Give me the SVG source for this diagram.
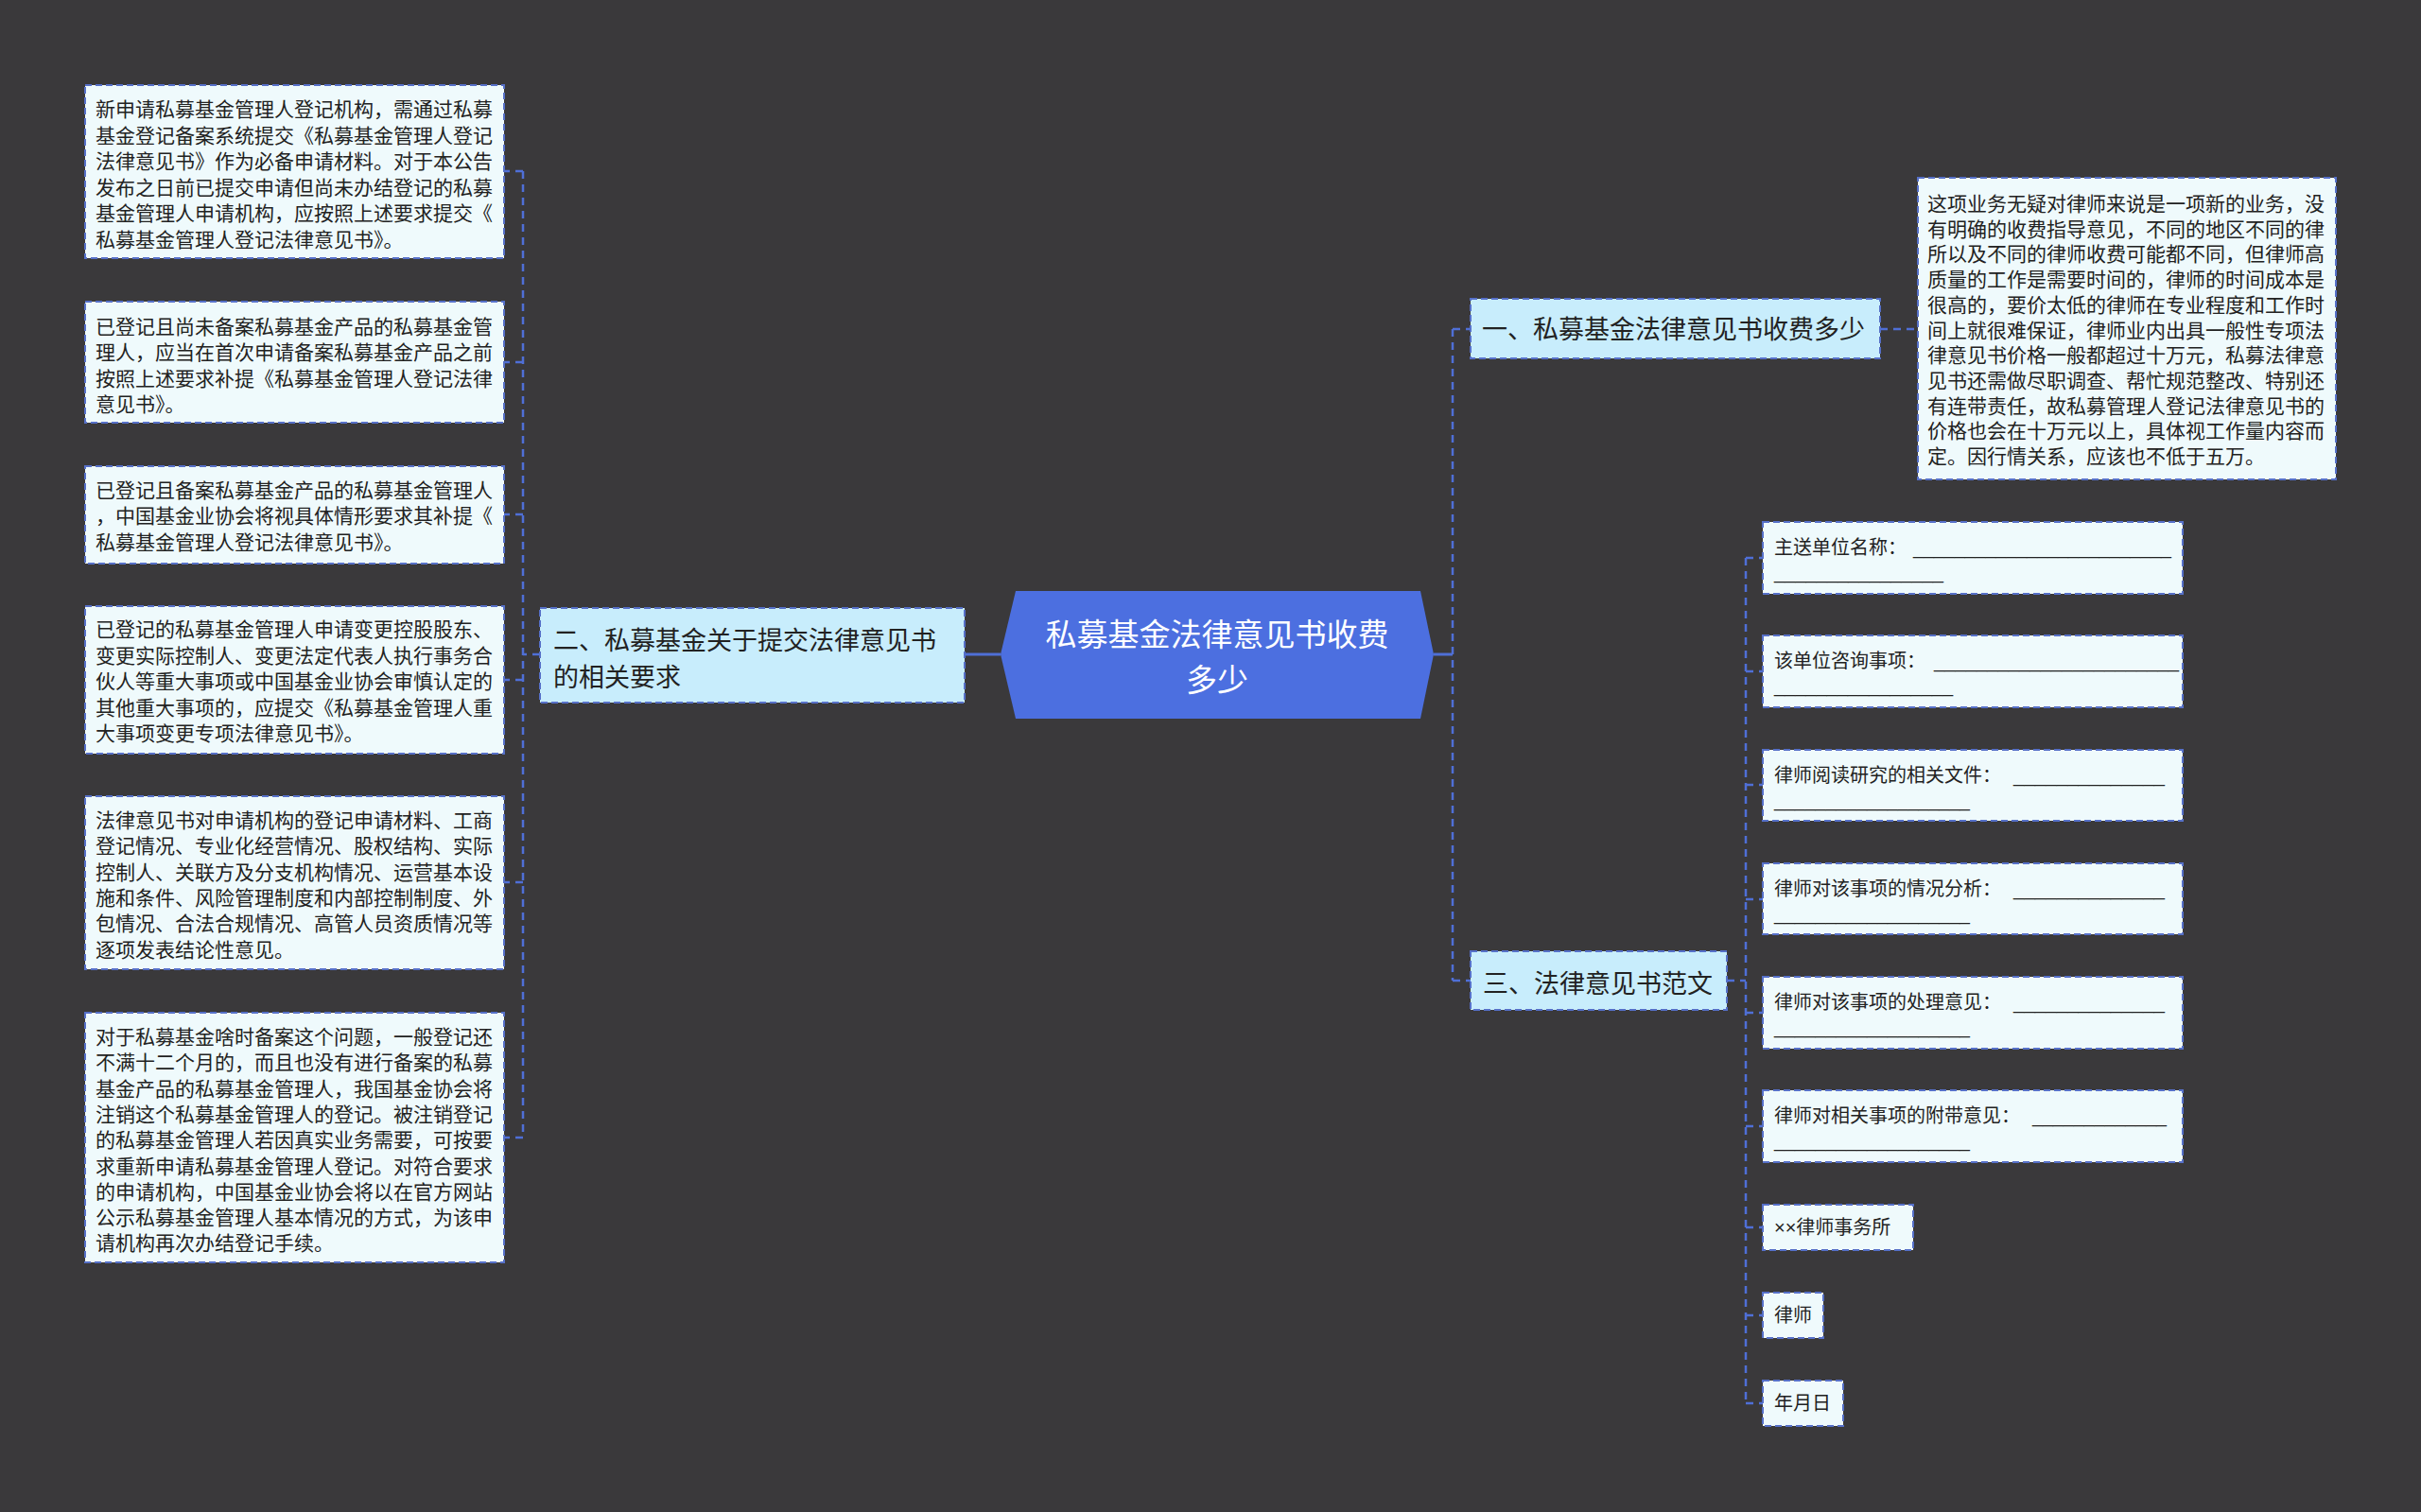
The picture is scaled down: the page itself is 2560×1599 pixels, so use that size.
<svg xmlns="http://www.w3.org/2000/svg" width="2560" height="1599" viewBox="0 0 2560 1599">
<style>
.leaf{fill:#effafc;stroke:#5670c8;stroke-width:2;stroke-dasharray:7 4}
.branch{fill:#c8edfc;stroke:#5670c8;stroke-width:2;stroke-dasharray:7 4}
.t{font-family:"Noto Sans CJK SC","Noto Sans",sans-serif;fill:#222;font-size:21px}
.ts{font-family:"Noto Sans CJK SC","Noto Sans",sans-serif;fill:#222;font-size:20px}
.tb{font-family:"Noto Sans CJK SC","Noto Sans",sans-serif;fill:#222;font-size:27px}
.u{font-family:"Liberation Sans",sans-serif;fill:#222;font-size:20px}
.conn{fill:none;stroke:#4f6fd6;stroke-width:2.5;stroke-dasharray:8 6}
.solid{fill:none;stroke:#4f6fd6;stroke-width:3}
</style>
<rect width="2560" height="1599" fill="#3a393b"/>
<g id="connectors">
<path class="solid" d="M1020 692H1058"/>
<path class="solid" d="M1516 692H1536"/>
<path class="conn" d="M571 692H553M553 181V1203M553 181H533M553 383H533M553 544H533M553 719H533M553 933H533M553 1203H533"/>
<path class="conn" d="M1536 348V1037M1536 348H1555M1536 1037H1555"/>
<path class="conn" d="M1988 348H2028"/>
<path class="conn" d="M1826 1037H1846M1846 590V1484M1846 590H1864M1846 710H1864M1846 830H1864M1846 951H1864M1846 1071H1864M1846 1191H1864M1846 1298H1864M1846 1391H1864M1846 1484H1864"/>
</g>
<g id="center">
<polygon points="1074,625 1502,625 1516,692 1502,760 1074,760 1058,692" fill="#4c6fe0"/>
<text text-anchor="middle" font-family="Noto Sans CJK SC, sans-serif" font-size="33" fill="#fff"><tspan x="1287" y="683">私募基金法律意见书收费</tspan><tspan x="1287" y="731">多少</tspan></text>
</g>
<g id="b2">
<rect class="branch" x="571" y="643" width="449" height="100"/>
<text class="tb"><tspan x="585" y="687">二、私募基金关于提交法律意见书</tspan><tspan x="585" y="726">的相关要求</tspan></text>
</g>
<g id="l1">
<rect class="leaf" x="90" y="90" width="443" height="183"/>
<text class="t" x="101" y="123"><tspan x="101">新申请私募基金管理人登记机构，需通过私募</tspan><tspan x="101" dy="27.5">基金登记备案系统提交《私募基金管理人登记</tspan><tspan x="101" dy="27.5">法律意见书》作为必备申请材料。对于本公告</tspan><tspan x="101" dy="27.5">发布之日前已提交申请但尚未办结登记的私募</tspan><tspan x="101" dy="27.5">基金管理人申请机构，应按照上述要求提交《</tspan><tspan x="101" dy="27.5">私募基金管理人登记法律意见书》。</tspan></text>
</g>
<g id="l2">
<rect class="leaf" x="90" y="319" width="443" height="128"/>
<text class="t" x="101" y="353"><tspan x="101">已登记且尚未备案私募基金产品的私募基金管</tspan><tspan x="101" dy="27.3">理人，应当在首次申请备案私募基金产品之前</tspan><tspan x="101" dy="27.3">按照上述要求补提《私募基金管理人登记法律</tspan><tspan x="101" dy="27.3">意见书》。</tspan></text>
</g>
<g id="l3">
<rect class="leaf" x="90" y="493" width="443" height="103"/>
<text class="t" x="101" y="526"><tspan x="101">已登记且备案私募基金产品的私募基金管理人</tspan><tspan x="101" dy="27.3">，中国基金业协会将视具体情形要求其补提《</tspan><tspan x="101" dy="27.3">私募基金管理人登记法律意见书》。</tspan></text>
</g>
<g id="l4">
<rect class="leaf" x="90" y="641" width="443" height="156"/>
<text class="t" x="101" y="673"><tspan x="101">已登记的私募基金管理人申请变更控股股东、</tspan><tspan x="101" dy="27.5">变更实际控制人、变更法定代表人执行事务合</tspan><tspan x="101" dy="27.5">伙人等重大事项或中国基金业协会审慎认定的</tspan><tspan x="101" dy="27.5">其他重大事项的，应提交《私募基金管理人重</tspan><tspan x="101" dy="27.5">大事项变更专项法律意见书》。</tspan></text>
</g>
<g id="l5">
<rect class="leaf" x="90" y="842" width="443" height="183"/>
<text class="t" x="101" y="875"><tspan x="101">法律意见书对申请机构的登记申请材料、工商</tspan><tspan x="101" dy="27.3">登记情况、专业化经营情况、股权结构、实际</tspan><tspan x="101" dy="27.3">控制人、关联方及分支机构情况、运营基本设</tspan><tspan x="101" dy="27.3">施和条件、风险管理制度和内部控制制度、外</tspan><tspan x="101" dy="27.3">包情况、合法合规情况、高管人员资质情况等</tspan><tspan x="101" dy="27.3">逐项发表结论性意见。</tspan></text>
</g>
<g id="l6">
<rect class="leaf" x="90" y="1071" width="443" height="264"/>
<text class="t" x="101" y="1104"><tspan x="101">对于私募基金啥时备案这个问题，一般登记还</tspan><tspan x="101" dy="27.3">不满十二个月的，而且也没有进行备案的私募</tspan><tspan x="101" dy="27.3">基金产品的私募基金管理人，我国基金协会将</tspan><tspan x="101" dy="27.3">注销这个私募基金管理人的登记。被注销登记</tspan><tspan x="101" dy="27.3">的私募基金管理人若因真实业务需要，可按要</tspan><tspan x="101" dy="27.3">求重新申请私募基金管理人登记。对符合要求</tspan><tspan x="101" dy="27.3">的申请机构，中国基金业协会将以在官方网站</tspan><tspan x="101" dy="27.3">公示私募基金管理人基本情况的方式，为该申</tspan><tspan x="101" dy="27.3">请机构再次办结登记手续。</tspan></text>
</g>
<g id="b1">
<rect class="branch" x="1555" y="316" width="433" height="63"/>
<text class="tb" x="1567" y="358">一、私募基金法律意见书收费多少</text>
</g>
<g id="r1">
<rect class="leaf" x="2028" y="188" width="442" height="319"/>
<text class="t" x="2038" y="223"><tspan x="2038">这项业务无疑对律师来说是一项新的业务，没</tspan><tspan x="2038" dy="26.7">有明确的收费指导意见，不同的地区不同的律</tspan><tspan x="2038" dy="26.7">所以及不同的律师收费可能都不同，但律师高</tspan><tspan x="2038" dy="26.7">质量的工作是需要时间的，律师的时间成本是</tspan><tspan x="2038" dy="26.7">很高的，要价太低的律师在专业程度和工作时</tspan><tspan x="2038" dy="26.7">间上就很难保证，律师业内出具一般性专项法</tspan><tspan x="2038" dy="26.7">律意见书价格一般都超过十万元，私募法律意</tspan><tspan x="2038" dy="26.7">见书还需做尽职调查、帮忙规范整改、特别还</tspan><tspan x="2038" dy="26.7">有连带责任，故私募管理人登记法律意见书的</tspan><tspan x="2038" dy="26.7">价格也会在十万元以上，具体视工作量内容而</tspan><tspan x="2038" dy="26.7">定。因行情关系，应该也不低于五万。</tspan></text>
</g>
<g id="b3">
<rect class="branch" x="1555" y="1006" width="271" height="62"/>
<text class="tb" x="1568" y="1050">三、法律意见书范文</text>
</g>
<g id="c1">
<rect class="leaf" x="1864" y="552" width="444" height="76"/>
<text class="ts" x="1876" y="586">主送单位名称：</text>
<text class="u" x="2023" y="586" textLength="273" lengthAdjust="spacingAndGlyphs">_________________________</text>
<text class="u" x="1876" y="612" textLength="179" lengthAdjust="spacingAndGlyphs">________________</text>
</g>
<g id="c2">
<rect class="leaf" x="1864" y="672" width="444" height="76"/>
<text class="ts" x="1876" y="706">该单位咨询事项：</text>
<text class="u" x="2045" y="706" textLength="259" lengthAdjust="spacingAndGlyphs">_______________________</text>
<text class="u" x="1876" y="732" textLength="189" lengthAdjust="spacingAndGlyphs">_________________</text>
</g>
<g id="c3">
<rect class="leaf" x="1864" y="793" width="444" height="75"/>
<text class="ts" x="1876" y="827">律师阅读研究的相关文件：</text>
<text class="u" x="2129" y="827" textLength="160" lengthAdjust="spacingAndGlyphs">______________</text>
<text class="u" x="1876" y="853" textLength="207" lengthAdjust="spacingAndGlyphs">___________________</text>
</g>
<g id="c4">
<rect class="leaf" x="1864" y="913" width="444" height="75"/>
<text class="ts" x="1876" y="947">律师对该事项的情况分析：</text>
<text class="u" x="2129" y="947" textLength="160" lengthAdjust="spacingAndGlyphs">______________</text>
<text class="u" x="1876" y="973" textLength="207" lengthAdjust="spacingAndGlyphs">___________________</text>
</g>
<g id="c5">
<rect class="leaf" x="1864" y="1033" width="444" height="76"/>
<text class="ts" x="1876" y="1067">律师对该事项的处理意见：</text>
<text class="u" x="2129" y="1067" textLength="160" lengthAdjust="spacingAndGlyphs">______________</text>
<text class="u" x="1876" y="1093" textLength="207" lengthAdjust="spacingAndGlyphs">___________________</text>
</g>
<g id="c6">
<rect class="leaf" x="1864" y="1153" width="444" height="76"/>
<text class="ts" x="1876" y="1187">律师对相关事项的附带意见：</text>
<text class="u" x="2149" y="1187" textLength="142" lengthAdjust="spacingAndGlyphs">_____________</text>
<text class="u" x="1876" y="1213" textLength="207" lengthAdjust="spacingAndGlyphs">___________________</text>
</g>
<g id="c7">
<rect class="leaf" x="1864" y="1274" width="159" height="48"/>
<text class="ts" x="1876" y="1305"><tspan font-family="Liberation Sans, sans-serif">××</tspan>律师事务所</text>
</g>
<g id="c8">
<rect class="leaf" x="1864" y="1367" width="64" height="48"/>
<text class="ts" x="1876" y="1398">律师</text>
</g>
<g id="c9">
<rect class="leaf" x="1864" y="1460" width="85" height="48"/>
<text class="ts" x="1876" y="1491">年月日</text>
</g>
</svg>
